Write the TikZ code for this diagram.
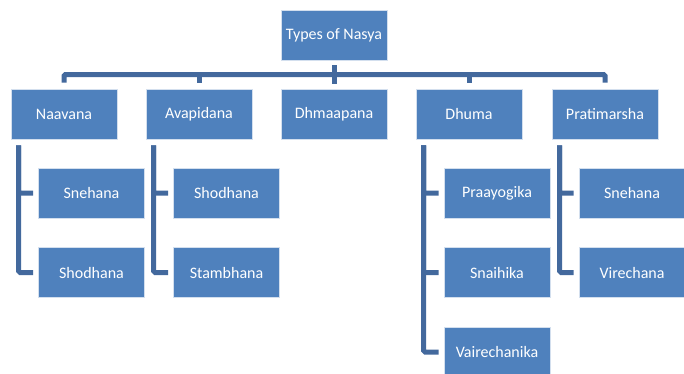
\documentclass[tikz,border=0pt]{standalone}
\usepackage{fontspec}
\setmainfont{Carlito}
\definecolor{boxblue}{HTML}{4F81BD}
\definecolor{linkblue}{HTML}{43699D}

\begin{document}
\begin{tikzpicture}[x=1pt,y=-1pt,
    nbox/.style={rectangle,fill=boxblue,draw=white!75!boxblue,line width=0.8pt,
      minimum width=106pt,minimum height=50pt,inner sep=0pt,text=white,
      font=\fontsize{16}{19}\selectfont},
    link/.style={draw=linkblue,line width=5pt,rounded corners=1.5pt}]
  \useasboundingbox (0,0) rectangle (684,373);
  % top and first level
  \node[nbox] (nasya) at (334,35) {Types of Nasya};
  \node[nbox] (naavana) at (64,114) {Naavana};
  \node[nbox] (avapidana) at (199,114) {Avapidana};
  \node[nbox] (dhmaapana) at (334,114) {Dhmaapana};
  \node[nbox] (dhuma) at (469,114) {Dhuma};
  \node[nbox] (pratimarsha) at (605,114) {Pratimarsha};
  % second level
  \node[nbox] (nv1) at (91.5,193) {Snehana};
  \node[nbox] (nv2) at (91.5,272.5) {Shodhana};
  \node[nbox] (av1) at (226.5,193) {Shodhana};
  \node[nbox] (av2) at (226.5,272.5) {Stambhana};
  \node[nbox] (dh1) at (497,193) {Praayogika};
  \node[nbox] (dh2) at (497,272.5) {Snaihika};
  \node[nbox] (dh3) at (497,352) {Vairechanika};
  \node[nbox] (pr1) at (632,193) {Snehana};
  \node[nbox] (pr2) at (632,272.5) {Virechana};

  \coordinate (bar) at (334,74.5);
  \draw[link] ([yshift=-5pt]nasya.south) -- ([yshift=5pt]dhmaapana.north);
  \draw[link] ([yshift=6pt]naavana.north) |- (bar) -| ([yshift=6pt]pratimarsha.north);
  \foreach \n in {avapidana,dhuma}
    \draw[link] ([yshift=6pt]\n.north) -- (\n.north |- bar);

  \foreach \p/\c in {naavana/nv1,naavana/nv2,avapidana/av1,avapidana/av2,
                     dhuma/dh1,dhuma/dh2,dhuma/dh3,pratimarsha/pr1,pratimarsha/pr2}
    \draw[link] ([xshift=8pt,yshift=-6pt]\p.south west) |- ([xshift=-5pt]\c.west);
\end{tikzpicture}
\end{document}
